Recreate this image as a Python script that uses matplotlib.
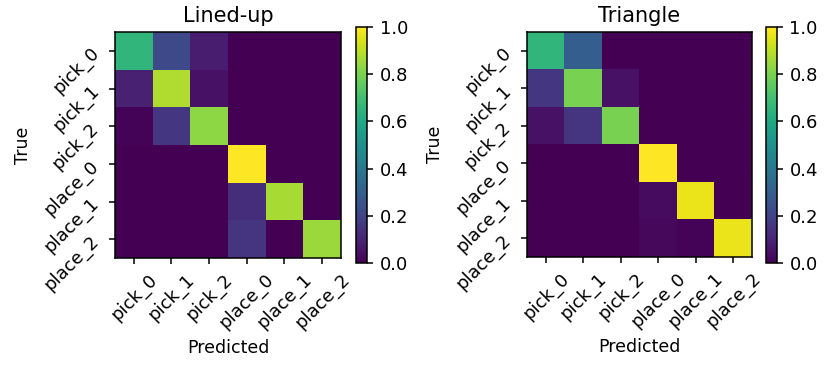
import matplotlib
matplotlib.use("Agg")
import matplotlib.pyplot as plt
import numpy as np

labels = ["pick_0", "pick_1", "pick_2", "place_0", "place_1", "place_2"]

lined_up = [
    [0.66, 0.22, 0.08, 0.0, 0.0, 0.0],
    [0.09, 0.88, 0.05, 0.0, 0.0, 0.0],
    [0.01, 0.16, 0.83, 0.0, 0.0, 0.0],
    [0.0, 0.0, 0.0, 1.0, 0.0, 0.0],
    [0.0, 0.0, 0.0, 0.13, 0.87, 0.0],
    [0.0, 0.0, 0.0, 0.15, 0.0, 0.85],
]

triangle = [
    [0.66, 0.30, 0.0, 0.0, 0.0, 0.0],
    [0.16, 0.80, 0.05, 0.0, 0.0, 0.0],
    [0.05, 0.15, 0.80, 0.0, 0.0, 0.0],
    [0.0, 0.0, 0.0, 1.0, 0.0, 0.0],
    [0.0, 0.0, 0.0, 0.03, 0.97, 0.0],
    [0.0, 0.0, 0.0, 0.02, 0.01, 0.97],
]

titles = ["Lined-up", "Triangle"]
W, H = 829, 366
fig = plt.figure(figsize=(W / 100, H / 100), dpi=100)

ax_px = [(115, 32, 226, 226), (527, 32, 225, 225)]
cb_px = [(356, 27, 11, 236), (766, 27, 11, 236)]

for data, title, (x, y, w, h), (cx, cy, cw, chh) in zip([lined_up, triangle], titles, ax_px, cb_px):
    ax = fig.add_axes([x / W, 1 - (y + h) / H, w / W, h / H])
    im = ax.imshow(np.array(data), cmap="viridis", vmin=0, vmax=1, interpolation="nearest")
    ax.set_xticks(range(len(labels)))
    ax.set_yticks(range(len(labels)))
    ax.set_xticklabels(labels, rotation=45, fontsize=13)
    ax.set_yticklabels(labels, rotation=45, fontsize=13)
    ax.tick_params(length=4.5, width=1.1, pad=4.5)
    for s in ax.spines.values():
        s.set_linewidth(1.1)
    ax.set_title(title, fontsize=15, pad=7)
    ax.set_xlabel("Predicted", fontsize=12.5, labelpad=5)
    ax.set_ylabel("True", fontsize=12.5, labelpad=6)
    cax = fig.add_axes([cx / W, 1 - (cy + chh) / H, cw / W, chh / H])
    cb = fig.colorbar(im, cax=cax)
    cb.set_ticks([0, 0.2, 0.4, 0.6, 0.8, 1.0])
    cb.ax.tick_params(labelsize=13, length=4.5, width=1.1, pad=4.5)
    cb.outline.set_linewidth(1.1)

fig.savefig("out.png", dpi=100)
